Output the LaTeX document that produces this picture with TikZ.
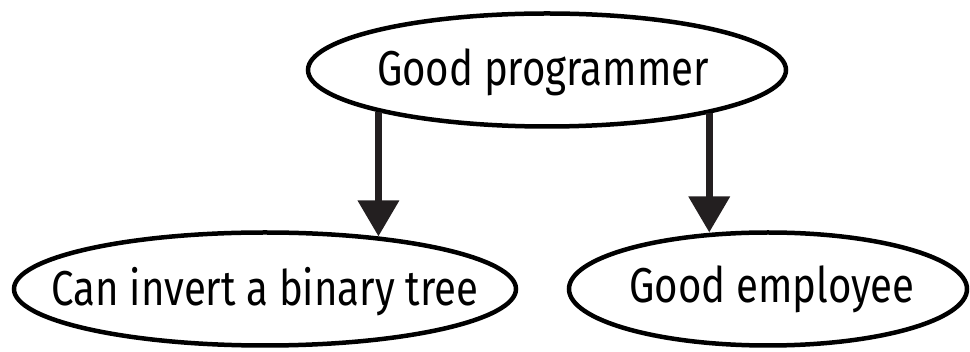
\documentclass[tikz,border=0pt]{standalone}
\usepackage{fontspec}
\setmainfont{Fira Sans}[FakeStretch=0.82]
\usetikzlibrary{shapes.geometric,arrows.meta}
\definecolor{ink}{HTML}{231F20}
\begin{document}
\begin{tikzpicture}[x=1pt,y=1pt,
  oval/.style={draw=black,line width=4.5pt,ellipse,inner sep=0pt,minimum height=113pt},
  lbl/.style={anchor=base,inner sep=0pt,font=\fontsize{49}{55}\selectfont,text=black},
  conn/.style={draw=ink,line width=7pt,-{Triangle[length=36pt,width=40pt]}}]
\useasboundingbox (0,0) rectangle (970,-352);
\node[oval,minimum width=478pt] (gp) at (547,-70) {};
\node[oval,minimum width=502pt] (ci) at (265,-289) {};
\node[oval,minimum width=398pt] (ge) at (768,-289) {};
\node[lbl] (tgp) at (543,-86) {Good programmer};
\node[lbl] (tci) at (265,-306) {Can invert a binary tree};
\node[lbl] (tge) at (772,-303) {Good employee};
\draw[conn] (gp.194.26) -- (gp.194.26 |- ci.155.53);
\draw[conn] (gp.345.44) -- (gp.345.44 |- ge.134.78);
\end{tikzpicture}
\end{document}
